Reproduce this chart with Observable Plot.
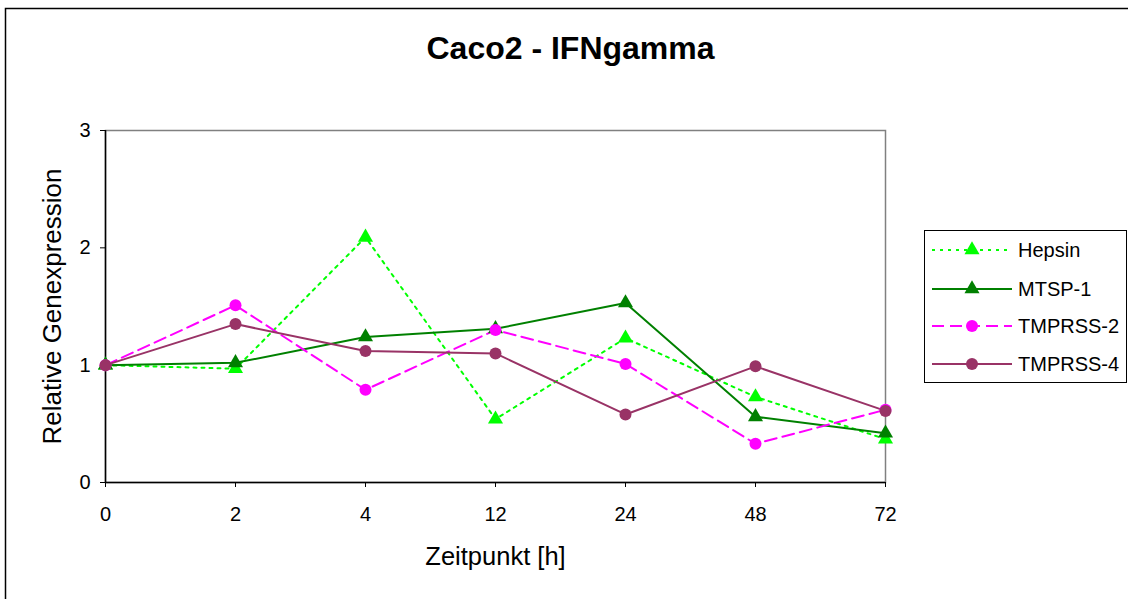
<!DOCTYPE html>
<html>
<head>
<meta charset="utf-8">
<script src="https://cdn.jsdelivr.net/npm/d3@7"></script>
<script src="https://cdn.jsdelivr.net/npm/@observablehq/plot@0.6"></script>
<style>
  html, body { margin: 0; padding: 0; background: #fff; }
  #chart svg { display: block; }
</style>
</head>
<body>
<div id="chart"></div>
<script>
const timepoints = ["0", "2", "4", "12", "24", "48", "72"];
const seriesNames = ["Hepsin", "MTSP-1", "TMPRSS-2", "TMPRSS-4"];
const hepsin  = [1.00, 0.97, 2.09, 0.54, 1.23, 0.73, 0.37];
const mtsp1   = [1.00, 1.02, 1.24, 1.31, 1.53, 0.56, 0.42];
const tmprss2 = [1.00, 1.51, 0.79, 1.30, 1.01, 0.33, 0.62];
const tmprss4 = [1.00, 1.35, 1.12, 1.10, 0.58, 0.99, 0.61];
const yTicks = [0, 1, 2, 3];
const titleText = "Caco2 - IFNgamma";
const xLabel = "Zeitpunkt [h]";
const yLabel = "Relative Genexpression";

const colors = ["#00ff00", "#008000", "#ff00ff", "#993366"];
const dashes = ["3,5", null, "12,6", null];
const symbols = ["triangle", "triangle", "circle", "circle"];

const valuesBySeries = [hepsin, mtsp1, tmprss2, tmprss4];
const rows = [];
valuesBySeries.forEach((vals, si) => {
  vals.forEach((v, i) => rows.push({series: seriesNames[si], time: timepoints[i], value: v}));
});

const font = "'Liberation Sans', Arial, sans-serif";

const lineMarks = seriesNames.map((s, si) =>
  Plot.line(rows.filter(d => d.series === s), {
    x: "time", y: "value", stroke: colors[si], strokeWidth: 2,
    strokeDasharray: dashes[si] || undefined
  })
);
const dotMarks = seriesNames.map((s, si) =>
  Plot.dot(rows.filter(d => d.series === s), {
    x: "time", y: "value", fill: colors[si], stroke: "none",
    symbol: () => symbols[si], r: symbols[si] === "triangle" ? 5.6 : 6
  })
);

const chart = Plot.plot({
  width: 1128,
  height: 599,
  marginLeft: 105,
  marginRight: 243,
  marginTop: 130,
  marginBottom: 117,
  style: {fontFamily: font, fontSize: "20px", color: "#000", background: "#fff"},
  x: {type: "point", domain: timepoints, padding: 0},
  y: {domain: [0, 3]},
  symbol: {type: "identity"},
  marks: [
    Plot.frame({stroke: "#808080", strokeWidth: 1.5}),
    Plot.ruleY([0], {stroke: "#000", strokeWidth: 1.5}),
    Plot.ruleX([timepoints[0]], {stroke: "#000", strokeWidth: 1.5}),
    Plot.axisY({ticks: yTicks, tickSize: 5, tickPadding: 10, label: null, stroke: "#000", fill: "#000", fontSize: 20, tickFormat: d3.format("d")}),
    Plot.axisX({tickSize: 5, tickPadding: 19, label: null, stroke: "#000", fill: "#000", fontSize: 20}),
    ...lineMarks,
    ...dotMarks,
    Plot.text([titleText], {frameAnchor: "top", textAnchor: "middle", lineAnchor: "middle", dx: 75, dy: -82, fontSize: 32, fontWeight: "bold", fill: "#000"}),
    Plot.text([xLabel], {frameAnchor: "bottom", textAnchor: "middle", lineAnchor: "middle", dy: 74, fontSize: 25.5, fill: "#000"}),
    Plot.text([yLabel], {frameAnchor: "left", textAnchor: "middle", lineAnchor: "middle", dx: -53, rotate: -90, fontSize: 26, fill: "#000"})
  ]
});

document.getElementById("chart").appendChild(chart);

// outer chart border
const svg = d3.select(chart);
svg.append("path")
  .attr("d", "M5.5,605V8.5H1135")
  .attr("fill", "none").attr("stroke", "#000").attr("stroke-width", 1.5);

// legend
const lg = svg.append("g");
lg.append("rect").attr("x", 924.5).attr("y", 230.5).attr("width", 202).attr("height", 152)
  .attr("fill", "#fff").attr("stroke", "#000").attr("stroke-width", 1);
const rowY = [250, 289, 326, 364];
seriesNames.forEach((s, si) => {
  const y = rowY[si];
  lg.append("line").attr("x1", 932).attr("x2", 1012).attr("y1", y).attr("y2", y)
    .attr("stroke", colors[si]).attr("stroke-width", 2)
    .attr("stroke-dasharray", dashes[si]);
  const sym = symbols[si] === "triangle" ? d3.symbolTriangle : d3.symbolCircle;
  const r = symbols[si] === "triangle" ? 5.6 : 6;
  lg.append("path").attr("transform", `translate(972,${y})`)
    .attr("d", d3.symbol(sym, Math.PI * r * r)())
    .attr("fill", colors[si]);
  lg.append("text").attr("x", 1018).attr("y", y).attr("dy", "0.35em")
    .attr("text-anchor", "start")
    .attr("font-size", 20).attr("font-family", font).attr("fill", "#000").text(s);
});
</script>
</body>
</html>
